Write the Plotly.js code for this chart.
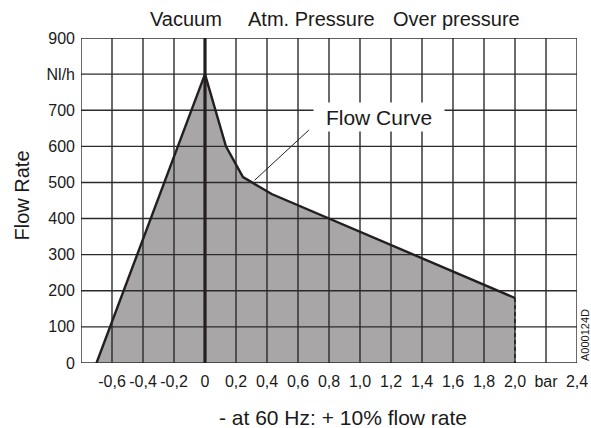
<!DOCTYPE html>
<html>
<head>
<meta charset="utf-8">
<script src="https://cdn.plot.ly/plotly-3.0.1.min.js"></script>
<style>html,body{margin:0;padding:0;background:#fff;}#chart{width:591px;height:428px;}</style>
</head>
<body>
<div id="chart"></div>
<script>
// ---- data ----
const pressure = [-0.7, 0, 0.135, 0.245, 0.43, 2.0];          // bar
const flow     = [0, 800, 600, 515, 468, 180];               // Nl/h
const xTickVals  = [-0.6, -0.4, -0.2, 0, 0.2, 0.4, 0.6, 0.8, 1.0, 1.2, 1.4, 1.6, 1.8, 2.0, 2.2, 2.4];
const xTickText  = ['-0,6', '-0,4', '-0,2', '0', '0,2', '0,4', '0,6', '0,8', '1,0', '1,2', '1,4', '1,6', '1,8', '2,0', 'bar', '2,4'];
const xGridVals  = [-0.8, -0.6, -0.4, -0.2, 0, 0.2, 0.4, 0.6, 0.8, 1.0, 1.2, 1.4, 1.6, 1.8, 2.0, 2.2, 2.4];
const yTickVals  = [0, 100, 200, 300, 400, 500, 600, 700, 800, 900];
const yTickText  = ['0', '100', '200', '300', '400', '500', '600', '700', 'Nl/h', '900'];
const topLabels  = ['Vacuum', 'Atm. Pressure', 'Over pressure'];
const topLabelX  = [-0.125, 0.69, 1.625];
const curveLabel = 'Flow Curve';
const curveLabelPos = [1.12, 680];
const leader = {x0: 0.67, y0: 645, x1: 0.32, y1: 506};

const xMin = -0.8, xMax = 2.4, yMin = 0, yMax = 900;
const ink = '#231f20';

// gridline trace (drawn above the fill)
const gx = [], gy = [];
xGridVals.forEach(v => { if (v !== 0) { gx.push(v, v, null); gy.push(yMin, yMax, null); } });
yTickVals.forEach(v => { gx.push(xMin, xMax, null); gy.push(v, v, null); });

const endX = pressure[pressure.length - 1], endY = flow[flow.length - 1];

const traces = [
  {x: pressure, y: flow, type: 'scatter', mode: 'none', fill: 'tozeroy',
   fillcolor: '#a8a6a7', hoverinfo: 'skip'},
  {x: gx, y: gy, type: 'scatter', mode: 'lines', line: {color: '#2b2b2b', width: 1.4}, hoverinfo: 'skip'},
  {x: [0, 0], y: [yMin, yMax], type: 'scatter', mode: 'lines', line: {color: ink, width: 3.2}, hoverinfo: 'skip'},
  {x: pressure, y: flow, type: 'scatter', mode: 'lines', line: {color: ink, width: 2.4}, hoverinfo: 'skip'},
  {x: [endX, endX], y: [endY, 0], type: 'scatter', mode: 'lines', line: {color: ink, width: 1.6, dash: '4px,3px'}, hoverinfo: 'skip'}
];

const font = {family: 'Arial, "Liberation Sans", sans-serif', color: '#1a1a1a'};

const annotations = topLabels.map((t, i) => ({
  text: t, x: topLabelX[i], xref: 'x', y: 1, yref: 'paper', yanchor: 'middle', yshift: 19,
  showarrow: false, font: Object.assign({}, font, {size: 20})
}));
annotations.push({
  text: curveLabel, x: curveLabelPos[0], y: curveLabelPos[1], xref: 'x', yref: 'y',
  showarrow: false, bgcolor: '#ffffff', borderpad: 3, width: 124, height: 22,
  font: Object.assign({}, font, {size: 21})
});
annotations.push({
  text: 'Flow Rate', x: 0, xref: 'paper', xanchor: 'center', xshift: -60, y: 0.5, yref: 'paper', yanchor: 'middle', yshift: 5,
  textangle: -90, showarrow: false, font: Object.assign({}, font, {size: 20})
});
annotations.push({
  text: '- at 60 Hz: + 10% flow rate', x: 0.89, xref: 'x', y: 0, yref: 'paper', yshift: -54,
  yanchor: 'middle', showarrow: false, font: Object.assign({}, font, {size: 21})
});
annotations.push({
  text: 'A000124D', x: 1, xref: 'paper', xanchor: 'center', xshift: 8, y: 0, yref: 'paper', yanchor: 'bottom', yshift: 0,
  textangle: -90, showarrow: false, font: Object.assign({}, font, {size: 11})
});

const layout = {
  width: 591, height: 428,
  margin: {l: 81, r: 14, t: 38, b: 65, pad: 0},
  paper_bgcolor: '#ffffff', plot_bgcolor: '#ffffff',
  showlegend: false,
  font: Object.assign({}, font, {size: 16}),
  xaxis: {range: [xMin, xMax], tickvals: xTickVals, ticktext: xTickText, showgrid: false,
          zeroline: false, showline: false, ticks: '', ticklabelstandoff: 7, fixedrange: true,
          tickfont: Object.assign({}, font, {size: 16})},
  yaxis: {range: [yMin, yMax], tickvals: yTickVals, ticktext: yTickText, showgrid: false,
          zeroline: false, showline: false, ticks: '', ticklabelstandoff: 5, fixedrange: true,
          tickfont: Object.assign({}, font, {size: 16})},
  shapes: [{type: 'line', xref: 'x', yref: 'y', x0: leader.x0, y0: leader.y0, x1: leader.x1, y1: leader.y1,
            line: {color: ink, width: 1}}],
  annotations: annotations
};

Plotly.newPlot('chart', traces, layout, {displayModeBar: false, staticPlot: true});
</script>
</body>
</html>
